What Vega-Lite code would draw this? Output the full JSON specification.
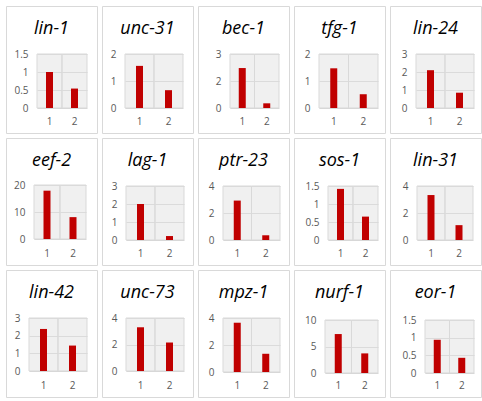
{
  "$schema": "https://vega.github.io/schema/vega-lite/v6.json",
  "padding": 5,
  "background": "white",
  "columns": 5,
  "spacing": 5,
  "bounds": "flush",
  "datasets": {
    "d": [
      {"gene": "lin-1", "x": "1", "value": 1.0}, {"gene": "lin-1", "x": "2", "value": 0.54},
      {"gene": "unc-31", "x": "1", "value": 1.56}, {"gene": "unc-31", "x": "2", "value": 0.66},
      {"gene": "bec-1", "x": "1", "value": 2.22}, {"gene": "bec-1", "x": "2", "value": 0.26},
      {"gene": "tfg-1", "x": "1", "value": 1.47}, {"gene": "tfg-1", "x": "2", "value": 0.51},
      {"gene": "lin-24", "x": "1", "value": 2.1}, {"gene": "lin-24", "x": "2", "value": 0.85},
      {"gene": "eef-2", "x": "1", "value": 17.9}, {"gene": "eef-2", "x": "2", "value": 8.1},
      {"gene": "lag-1", "x": "1", "value": 2.0}, {"gene": "lag-1", "x": "2", "value": 0.22},
      {"gene": "ptr-23", "x": "1", "value": 2.92}, {"gene": "ptr-23", "x": "2", "value": 0.35},
      {"gene": "sos-1", "x": "1", "value": 1.42}, {"gene": "sos-1", "x": "2", "value": 0.65},
      {"gene": "lin-31", "x": "1", "value": 3.33}, {"gene": "lin-31", "x": "2", "value": 1.1},
      {"gene": "lin-42", "x": "1", "value": 2.38}, {"gene": "lin-42", "x": "2", "value": 1.44},
      {"gene": "unc-73", "x": "1", "value": 3.3}, {"gene": "unc-73", "x": "2", "value": 2.15},
      {"gene": "mpz-1", "x": "1", "value": 3.65}, {"gene": "mpz-1", "x": "2", "value": 1.35},
      {"gene": "nurf-1", "x": "1", "value": 7.35}, {"gene": "nurf-1", "x": "2", "value": 3.7},
      {"gene": "eor-1", "x": "1", "value": 0.94}, {"gene": "eor-1", "x": "2", "value": 0.43}
    ]
  },
  "concat": [
    {"title": "lin-1", "width": 91, "height": 127, "data": {"name": "d"}, "transform": [{"filter": "datum.gene === 'lin-1'"}],
     "encoding": {"x": {"field": "x", "type": "nominal", "scale": {"range": [31, 81], "paddingInner": 0, "paddingOuter": 0}, "axis": {"offset": -25, "title": null}}},
     "layer": [
      {"mark": {"type": "bar", "fill": "#e1e1e1", "fillOpacity": 0.5, "stroke": "#d9d9d9", "strokeWidth": 1}, "encoding": {"y": {"datum": 1.5, "type": "quantitative", "scale": {"domain": [0, 1.5], "range": [102, 48], "nice": false}, "axis": {"values": [0, 0.5, 1, 1.5], "offset": -31, "title": null}}}},
      {"mark": {"type": "bar", "color": "#c00000", "size": 7}, "encoding": {"y": {"field": "value", "type": "quantitative", "title": null}}}
     ]},
    {"title": "unc-31", "width": 91, "height": 127, "data": {"name": "d"}, "transform": [{"filter": "datum.gene === 'unc-31'"}],
     "encoding": {"x": {"field": "x", "type": "nominal", "scale": {"range": [23, 81], "paddingInner": 0, "paddingOuter": 0}, "axis": {"offset": -25, "title": null}}},
     "layer": [
      {"mark": {"type": "bar", "fill": "#e1e1e1", "fillOpacity": 0.5, "stroke": "#d9d9d9", "strokeWidth": 1}, "encoding": {"y": {"datum": 2, "type": "quantitative", "scale": {"domain": [0, 2], "range": [102, 48], "nice": false}, "axis": {"values": [0, 1, 2], "offset": -23, "title": null}}}},
      {"mark": {"type": "bar", "color": "#c00000", "size": 7}, "encoding": {"y": {"field": "value", "type": "quantitative", "title": null}}}
     ]},
    {"title": "bec-1", "width": 91, "height": 127, "data": {"name": "d"}, "transform": [{"filter": "datum.gene === 'bec-1'"}],
     "encoding": {"x": {"field": "x", "type": "nominal", "scale": {"range": [32, 81], "paddingInner": 0, "paddingOuter": 0}, "axis": {"offset": -25, "title": null}}},
     "layer": [
      {"mark": {"type": "bar", "fill": "#e1e1e1", "fillOpacity": 0.5, "stroke": "#d9d9d9", "strokeWidth": 1}, "encoding": {"y": {"datum": 3, "type": "quantitative", "scale": {"domain": [0, 3], "range": [102, 48], "nice": false}, "axis": {"values": [0, 1.5, 3], "offset": -32, "title": null}}}},
      {"mark": {"type": "bar", "color": "#c00000", "size": 7}, "encoding": {"y": {"field": "value", "type": "quantitative", "title": null}}}
     ]},
    {"title": "tfg-1", "width": 91, "height": 127, "data": {"name": "d"}, "transform": [{"filter": "datum.gene === 'tfg-1'"}],
     "encoding": {"x": {"field": "x", "type": "nominal", "scale": {"range": [25, 84], "paddingInner": 0, "paddingOuter": 0}, "axis": {"offset": -25, "title": null}}},
     "layer": [
      {"mark": {"type": "bar", "fill": "#e1e1e1", "fillOpacity": 0.5, "stroke": "#d9d9d9", "strokeWidth": 1}, "encoding": {"y": {"datum": 2, "type": "quantitative", "scale": {"domain": [0, 2], "range": [102, 48], "nice": false}, "axis": {"values": [0, 1, 2], "offset": -25, "title": null}}}},
      {"mark": {"type": "bar", "color": "#c00000", "size": 7}, "encoding": {"y": {"field": "value", "type": "quantitative", "title": null}}}
     ]},
    {"title": "lin-24", "width": 91, "height": 127, "data": {"name": "d"}, "transform": [{"filter": "datum.gene === 'lin-24'"}],
     "encoding": {"x": {"field": "x", "type": "nominal", "scale": {"range": [26, 84], "paddingInner": 0, "paddingOuter": 0}, "axis": {"offset": -25, "title": null}}},
     "layer": [
      {"mark": {"type": "bar", "fill": "#e1e1e1", "fillOpacity": 0.5, "stroke": "#d9d9d9", "strokeWidth": 1}, "encoding": {"y": {"datum": 3, "type": "quantitative", "scale": {"domain": [0, 3], "range": [102, 48], "nice": false}, "axis": {"values": [0, 1, 2, 3], "offset": -26, "title": null}}}},
      {"mark": {"type": "bar", "color": "#c00000", "size": 7}, "encoding": {"y": {"field": "value", "type": "quantitative", "title": null}}}
     ]},
    {"title": "eef-2", "width": 91, "height": 127, "data": {"name": "d"}, "transform": [{"filter": "datum.gene === 'eef-2'"}],
     "encoding": {"x": {"field": "x", "type": "nominal", "scale": {"range": [28, 80], "paddingInner": 0, "paddingOuter": 0}, "axis": {"offset": -25, "title": null}}},
     "layer": [
      {"mark": {"type": "bar", "fill": "#e1e1e1", "fillOpacity": 0.5, "stroke": "#d9d9d9", "strokeWidth": 1}, "encoding": {"y": {"datum": 20, "type": "quantitative", "scale": {"domain": [0, 20], "range": [101, 47], "nice": false}, "axis": {"values": [0, 10, 20], "offset": -28, "title": null}}}},
      {"mark": {"type": "bar", "color": "#c00000", "size": 7}, "encoding": {"y": {"field": "value", "type": "quantitative", "title": null}}}
     ]},
    {"title": "lag-1", "width": 91, "height": 127, "data": {"name": "d"}, "transform": [{"filter": "datum.gene === 'lag-1'"}],
     "encoding": {"x": {"field": "x", "type": "nominal", "scale": {"range": [24, 82], "paddingInner": 0, "paddingOuter": 0}, "axis": {"offset": -25, "title": null}}},
     "layer": [
      {"mark": {"type": "bar", "fill": "#e1e1e1", "fillOpacity": 0.5, "stroke": "#d9d9d9", "strokeWidth": 1}, "encoding": {"y": {"datum": 3, "type": "quantitative", "scale": {"domain": [0, 3], "range": [102, 48], "nice": false}, "axis": {"values": [0, 1, 2, 3], "offset": -24, "title": null}}}},
      {"mark": {"type": "bar", "color": "#c00000", "size": 7}, "encoding": {"y": {"field": "value", "type": "quantitative", "title": null}}}
     ]},
    {"title": "ptr-23", "width": 91, "height": 127, "data": {"name": "d"}, "transform": [{"filter": "datum.gene === 'ptr-23'"}],
     "encoding": {"x": {"field": "x", "type": "nominal", "scale": {"range": [25, 82], "paddingInner": 0, "paddingOuter": 0}, "axis": {"offset": -25, "title": null}}},
     "layer": [
      {"mark": {"type": "bar", "fill": "#e1e1e1", "fillOpacity": 0.5, "stroke": "#d9d9d9", "strokeWidth": 1}, "encoding": {"y": {"datum": 4, "type": "quantitative", "scale": {"domain": [0, 4], "range": [102, 48], "nice": false}, "axis": {"values": [0, 2, 4], "offset": -25, "title": null}}}},
      {"mark": {"type": "bar", "color": "#c00000", "size": 7}, "encoding": {"y": {"field": "value", "type": "quantitative", "title": null}}}
     ]},
    {"title": "sos-1", "width": 91, "height": 127, "data": {"name": "d"}, "transform": [{"filter": "datum.gene === 'sos-1'"}],
     "encoding": {"x": {"field": "x", "type": "nominal", "scale": {"range": [34, 84], "paddingInner": 0, "paddingOuter": 0}, "axis": {"offset": -25, "title": null}}},
     "layer": [
      {"mark": {"type": "bar", "fill": "#e1e1e1", "fillOpacity": 0.5, "stroke": "#d9d9d9", "strokeWidth": 1}, "encoding": {"y": {"datum": 1.5, "type": "quantitative", "scale": {"domain": [0, 1.5], "range": [102, 48], "nice": false}, "axis": {"values": [0, 0.5, 1, 1.5], "offset": -34, "title": null}}}},
      {"mark": {"type": "bar", "color": "#c00000", "size": 7}, "encoding": {"y": {"field": "value", "type": "quantitative", "title": null}}}
     ]},
    {"title": "lin-31", "width": 91, "height": 127, "data": {"name": "d"}, "transform": [{"filter": "datum.gene === 'lin-31'"}],
     "encoding": {"x": {"field": "x", "type": "nominal", "scale": {"range": [27, 83], "paddingInner": 0, "paddingOuter": 0}, "axis": {"offset": -25, "title": null}}},
     "layer": [
      {"mark": {"type": "bar", "fill": "#e1e1e1", "fillOpacity": 0.5, "stroke": "#d9d9d9", "strokeWidth": 1}, "encoding": {"y": {"datum": 4, "type": "quantitative", "scale": {"domain": [0, 4], "range": [102, 48], "nice": false}, "axis": {"values": [0, 2, 4], "offset": -27, "title": null}}}},
      {"mark": {"type": "bar", "color": "#c00000", "size": 7}, "encoding": {"y": {"field": "value", "type": "quantitative", "title": null}}}
     ]},
    {"title": "lin-42", "width": 91, "height": 127, "data": {"name": "d"}, "transform": [{"filter": "datum.gene === 'lin-42'"}],
     "encoding": {"x": {"field": "x", "type": "nominal", "scale": {"range": [23, 81], "paddingInner": 0, "paddingOuter": 0}, "axis": {"offset": -25, "title": null}}},
     "layer": [
      {"mark": {"type": "bar", "fill": "#e1e1e1", "fillOpacity": 0.5, "stroke": "#d9d9d9", "strokeWidth": 1}, "encoding": {"y": {"datum": 3, "type": "quantitative", "scale": {"domain": [0, 3], "range": [101, 48], "nice": false}, "axis": {"values": [0, 1, 2, 3], "offset": -23, "title": null}}}},
      {"mark": {"type": "bar", "color": "#c00000", "size": 7}, "encoding": {"y": {"field": "value", "type": "quantitative", "title": null}}}
     ]},
    {"title": "unc-73", "width": 91, "height": 127, "data": {"name": "d"}, "transform": [{"filter": "datum.gene === 'unc-73'"}],
     "encoding": {"x": {"field": "x", "type": "nominal", "scale": {"range": [24, 82], "paddingInner": 0, "paddingOuter": 0}, "axis": {"offset": -25, "title": null}}},
     "layer": [
      {"mark": {"type": "bar", "fill": "#e1e1e1", "fillOpacity": 0.5, "stroke": "#d9d9d9", "strokeWidth": 1}, "encoding": {"y": {"datum": 4, "type": "quantitative", "scale": {"domain": [0, 4], "range": [101, 48], "nice": false}, "axis": {"values": [0, 2, 4], "offset": -24, "title": null}}}},
      {"mark": {"type": "bar", "color": "#c00000", "size": 7}, "encoding": {"y": {"field": "value", "type": "quantitative", "title": null}}}
     ]},
    {"title": "mpz-1", "width": 91, "height": 127, "data": {"name": "d"}, "transform": [{"filter": "datum.gene === 'mpz-1'"}],
     "encoding": {"x": {"field": "x", "type": "nominal", "scale": {"range": [25, 82], "paddingInner": 0, "paddingOuter": 0}, "axis": {"offset": -25, "title": null}}},
     "layer": [
      {"mark": {"type": "bar", "fill": "#e1e1e1", "fillOpacity": 0.5, "stroke": "#d9d9d9", "strokeWidth": 1}, "encoding": {"y": {"datum": 4, "type": "quantitative", "scale": {"domain": [0, 4], "range": [102, 48], "nice": false}, "axis": {"values": [0, 2, 4], "offset": -25, "title": null}}}},
      {"mark": {"type": "bar", "color": "#c00000", "size": 7}, "encoding": {"y": {"field": "value", "type": "quantitative", "title": null}}}
     ]},
    {"title": "nurf-1", "width": 91, "height": 127, "data": {"name": "d"}, "transform": [{"filter": "datum.gene === 'nurf-1'"}],
     "encoding": {"x": {"field": "x", "type": "nominal", "scale": {"range": [31, 84], "paddingInner": 0, "paddingOuter": 0}, "axis": {"offset": -25, "title": null}}},
     "layer": [
      {"mark": {"type": "bar", "fill": "#e1e1e1", "fillOpacity": 0.5, "stroke": "#d9d9d9", "strokeWidth": 1}, "encoding": {"y": {"datum": 10, "type": "quantitative", "scale": {"domain": [0, 10], "range": [103, 50], "nice": false}, "axis": {"values": [0, 5, 10], "offset": -31, "title": null}}}},
      {"mark": {"type": "bar", "color": "#c00000", "size": 7}, "encoding": {"y": {"field": "value", "type": "quantitative", "title": null}}}
     ]},
    {"title": "eor-1", "width": 91, "height": 127, "data": {"name": "d"}, "transform": [{"filter": "datum.gene === 'eor-1'"}],
     "encoding": {"x": {"field": "x", "type": "nominal", "scale": {"range": [35, 84], "paddingInner": 0, "paddingOuter": 0}, "axis": {"offset": -25, "title": null}}},
     "layer": [
      {"mark": {"type": "bar", "fill": "#e1e1e1", "fillOpacity": 0.5, "stroke": "#d9d9d9", "strokeWidth": 1}, "encoding": {"y": {"datum": 1.5, "type": "quantitative", "scale": {"domain": [0, 1.5], "range": [103, 50], "nice": false}, "axis": {"values": [0, 0.5, 1, 1.5], "offset": -35, "title": null}}}},
      {"mark": {"type": "bar", "color": "#c00000", "size": 7}, "encoding": {"y": {"field": "value", "type": "quantitative", "title": null}}}
     ]}
  ],
  "config": {
    "view": {"stroke": "#d9d9d9", "strokeWidth": 1, "fill": "white"},
    "title": {"font": "Open Sans", "fontSize": 18, "fontStyle": "italic", "fontWeight": "normal", "color": "#000000", "anchor": "middle", "frame": "group", "offset": -32, "baseline": "alphabetic"},
    "axis": {"labelFont": "Open Sans", "labelFontSize": 10, "labelColor": "#595959", "domain": false, "ticks": false, "tickSize": 0, "gridColor": "#d4d4d4", "gridWidth": 1},
    "axisX": {"grid": false, "labelAngle": 0, "labelPadding": 8},
    "axisY": {"grid": true, "labelPadding": 9, "format": "~r"}
  }
}
